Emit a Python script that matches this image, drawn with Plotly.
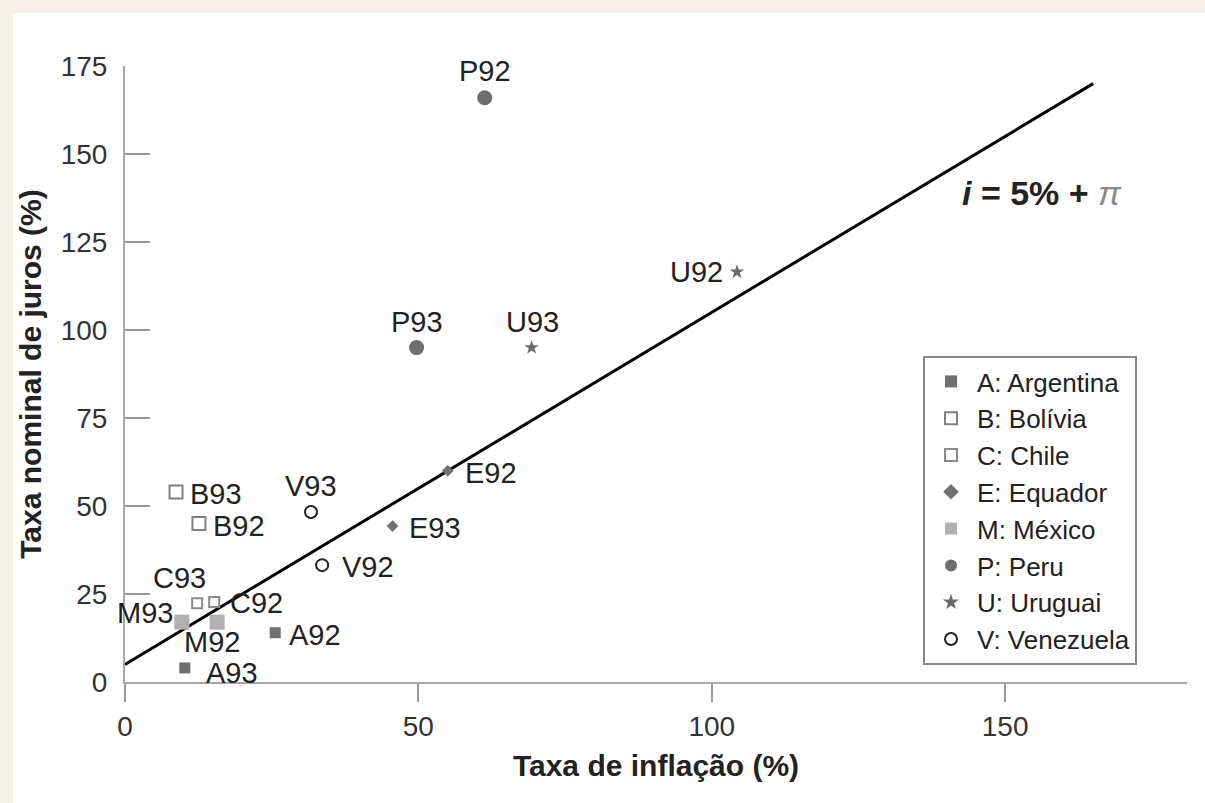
import plotly.graph_objects as go

# ---- data ----
countries = ["A: Argentina", "B: Bolívia", "C: Chile", "E: Equador",
             "M: México", "P: Peru", "U: Uruguai", "V: Venezuela"]
labels = [["A92", "A93"], ["B92", "B93"], ["C92", "C93"], ["E92", "E93"],
          ["M92", "M93"], ["P92", "P93"], ["U92", "U93"], ["V92", "V93"]]
inflation = [[25.6, 10.2], [12.6, 8.7], [15.2, 12.3], [55.0, 45.6],
             [15.7, 9.7], [61.3, 49.7], [104.3, 69.3], [33.6, 31.7]]
interest = [[14.0, 4.0], [45.0, 54.0], [22.7, 22.4], [60.0, 44.3],
            [17.0, 17.0], [166.0, 95.0], [116.5, 95.0], [33.2, 48.3]]

line_x = [0, 165]
line_y = [5, 170]

x_ticks = [0, 50, 100, 150]
y_ticks = [0, 25, 50, 75, 100, 125, 150, 175]

# ---- styles ----
symbols = ["square", "square-open", "square-open", "diamond",
           "square", "circle", "star", "circle-open"]
colors = ["#707070", "#808080", "#8a8a8a", "#707070",
          "#b0b0b0", "#6e6e6e", "#6a6a6a", "#222222"]
sizes = [11, 13, 10, 9, 15, 15, 11, 12]
# label placement (anchor, xshift px, yshift px) for each point
label_place = [
    [("left", 12, -2), ("left", 19, -5)],      # A92, A93
    [("left", 12, -2), ("left", 12, -2)],      # B92, B93
    [("left", 14, -1), ("center", -18, 25)],   # C92, C93
    [("left", 15, -2), ("left", 14, -2)],      # E92, E93
    [("center", -5, -20), ("right", -7, 9)],   # M92, M93
    [("center", 0, 27), ("center", 0, 26)],    # P92, P93
    [("right", -12, 0), ("center", 1, 26)],    # U92, U93
    [("left", 18, -2), ("center", 0, 26)],     # V92, V93
]

FONT = "Liberation Sans, Arial, sans-serif"

fig = go.Figure()

fig.add_trace(go.Scatter(x=line_x, y=line_y, mode="lines",
                         line=dict(color="black", width=3),
                         showlegend=False, hoverinfo="skip"))

annotations = []
for i, c in enumerate(countries):
    fig.add_trace(go.Scatter(
        x=inflation[i], y=interest[i], mode="markers", name=c,
        marker=dict(symbol=symbols[i], color=colors[i], size=sizes[i],
                    line=dict(color=colors[i], width=2 if "open" in symbols[i] else 0)),
        cliponaxis=False))
    for j in range(len(labels[i])):
        anc, dx, dy = label_place[i][j]
        annotations.append(dict(
            x=inflation[i][j], y=interest[i][j], xref="x", yref="y",
            text=labels[i][j], showarrow=False, xanchor=anc, yanchor="middle",
            xshift=dx, yshift=dy,
            font=dict(family=FONT, size=29, color="#222")))

annotations.append(dict(x=156.3, y=138.9, xref="x", yref="y", showarrow=False,
                        text="<b><i>i</i> = 5% + </b><i><span style='color:#888'>π</span></i>",
                        font=dict(family=FONT, size=34, color="#222")))

L, R, T, B = 125, 18, 66, 121
W, H = 1205, 803
pw, ph = W - L - R, H - T - B

def px_x(p):
    return (p - L) / pw

def px_y(p):
    return (H - B - p) / ph

beige = "#f5f1e7"
shapes = [
    dict(type="rect", xref="paper", yref="paper", layer="below",
         x0=px_x(0), x1=px_x(13), y0=px_y(H), y1=px_y(0),
         fillcolor=beige, line=dict(width=0)),
    dict(type="rect", xref="paper", yref="paper", layer="below",
         x0=px_x(0), x1=px_x(W), y0=px_y(13), y1=px_y(0),
         fillcolor=beige, line=dict(width=0)),
]

fig.update_layout(
    width=W, height=H,
    margin=dict(l=L, r=R, t=T, b=B),
    paper_bgcolor="white", plot_bgcolor="white",
    font=dict(family=FONT, color="#222"),
    shapes=shapes,
    annotations=annotations,
    showlegend=True,
    legend=dict(x=px_x(923), y=px_y(356), xanchor="left", yanchor="top",
                bordercolor="#888", borderwidth=2, bgcolor="white",
                font=dict(family=FONT, size=26, color="#222"),
                itemsizing="constant", itemwidth=42),
    xaxis=dict(range=[0, 181], tickvals=x_ticks, showgrid=False, zeroline=False,
               showline=True, linecolor="#a8a8a8", linewidth=2,
               ticks="outside", ticklen=18, tickwidth=1.5, tickcolor="#999",
               tickfont=dict(size=28, color="#333"),
               title=dict(text="<b>Taxa de inflação (%)</b>", font=dict(size=30, color="#222"),
                          standoff=14)),
    yaxis=dict(range=[0, 175], tickvals=y_ticks, showgrid=False, zeroline=False,
               showline=True, linecolor="#a8a8a8", linewidth=2,
               ticks="inside", ticklen=25, tickwidth=1.5, tickcolor="#999",
               tickfont=dict(size=28, color="#333"), ticklabelstandoff=10,
               title=dict(text="<b>Taxa nominal de juros (%)</b>", font=dict(size=30, color="#222"),
                          standoff=10)),
)

fig.write_html("out.html", config={"displayModeBar": False},
               post_script="document.body.style.margin='0px';")
